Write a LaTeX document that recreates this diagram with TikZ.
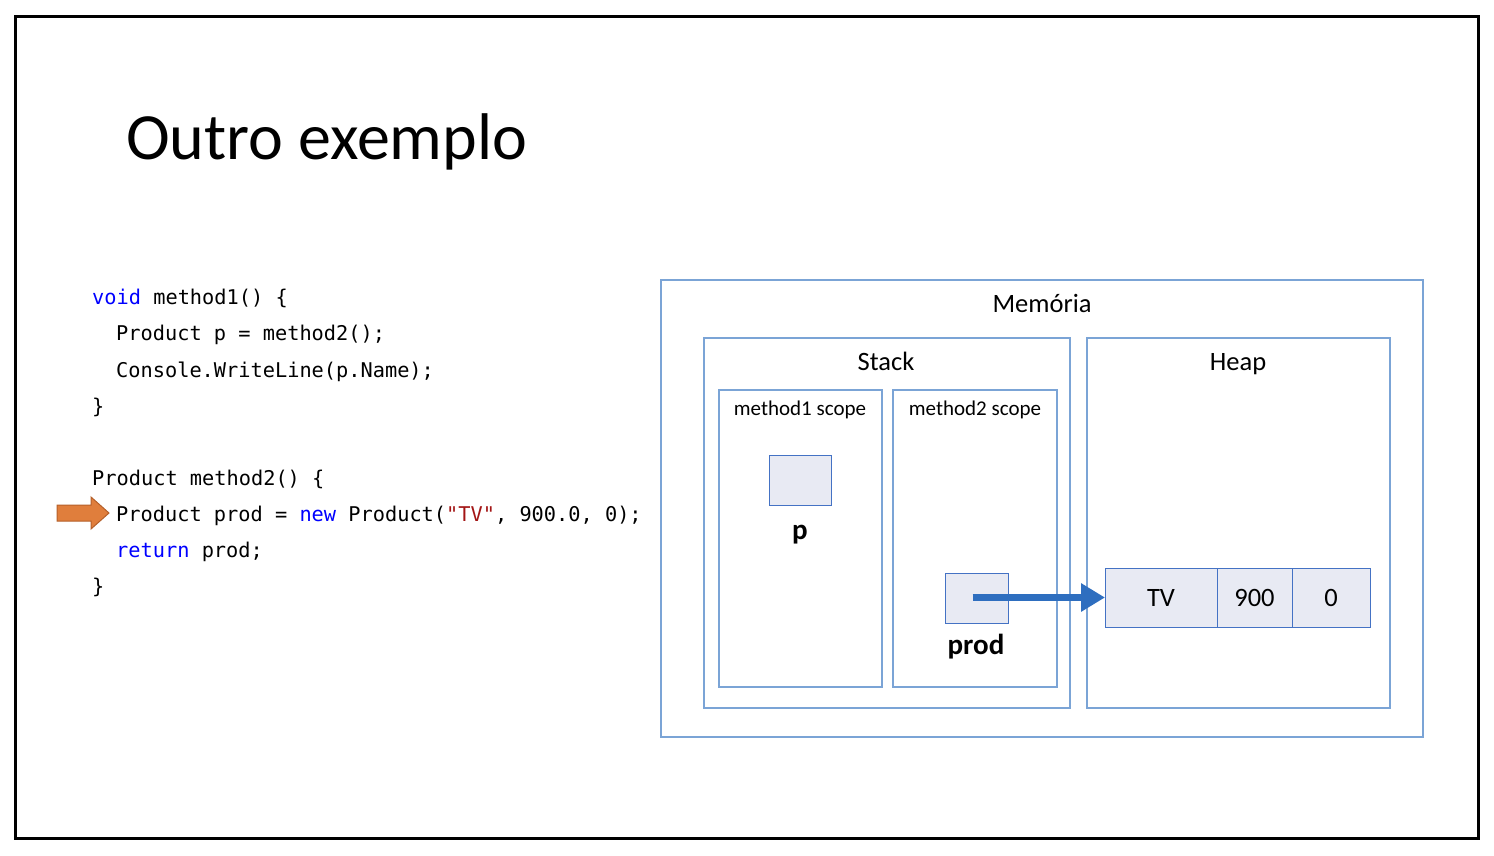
\documentclass[tikz,border=0pt]{standalone}
\usepackage{fontspec}
\setmainfont{Carlito}
\newfontfamily\codefont{DejaVu Sans Mono}
\usetikzlibrary{arrows.meta}
\definecolor{frameblue}{HTML}{7BA4D6}
\definecolor{cellblue}{HTML}{4472C4}
\definecolor{cellfill}{HTML}{E8EAF3}
\definecolor{arrowblue}{HTML}{2E6EBF}
\definecolor{orangefill}{HTML}{E07E3C}
\definecolor{orangeedge}{HTML}{B5602A}
\definecolor{kwblue}{HTML}{0000FF}
\definecolor{strred}{HTML}{A31515}
\tikzset{
  box/.style={draw=frameblue, line width=2pt, inner sep=0pt, outer sep=0pt, anchor=north west},
  cell/.style={draw=cellblue, fill=cellfill, line width=1pt, inner sep=0pt, outer sep=0pt, anchor=north west},
  codeline/.style={anchor=base west, inner sep=0pt, font=\codefont\fontsize{20.3}{24}\selectfont},
  lbl/.style={anchor=base, inner sep=0pt, font=\fontsize{26.5}{30}\selectfont},
  scopelbl/.style={anchor=base, inner sep=0pt, font=\fontsize{21}{25}\selectfont},
  varlbl/.style={anchor=base, inner sep=0pt, font=\bfseries\fontsize{29}{32}\selectfont},
}
\newcommand{\kw}[1]{\textcolor{kwblue}{#1}}
\newcommand{\str}[1]{\textcolor{strred}{#1}}
\begin{document}
\begin{tikzpicture}[x=1pt,y=-1pt]
\useasboundingbox (0,0) rectangle (1494,856);
\fill[white] (0,0) rectangle (1494,856);
\draw[line width=3pt] (15,17) rectangle (1478,838);

% title
\node (title) [anchor=base west, inner sep=0pt, font=\fontsize{66}{70}\selectfont] at (126,160) {Outro exemplo};

% code
\node (c1) [codeline] at (92,304) {\kw{void} method1() \{};
\node (c2) [codeline] at (116,340) {Product p = method2();};
\node (c3) [codeline] at (116,377) {Console.WriteLine(p.Name);};
\node (c4) [codeline] at (92,413) {\}};
\node (c5) [codeline] at (92,485) {Product method2() \{};
\node (c6) [codeline] at (116,521) {Product prod = \kw{new} Product(\str{"TV"}, 900.0, 0);};
\node (c7) [codeline] at (116,557) {\kw{return} prod;};
\node (c8) [codeline] at (92,593) {\}};

% orange pointer
\draw[fill=orangefill, draw=orangeedge, line width=1pt]
  (57,505) -- (91,505) -- (91,497) -- (109,513) -- (91,529) -- (91,521) -- (57,521) -- cycle;

% memory boxes
\node (mem) [box, minimum width=762pt, minimum height=457pt] at (661,280) {};
\node (stack) [box, minimum width=366pt, minimum height=370pt] at (704,338) {};
\node (heap) [box, minimum width=303pt, minimum height=370pt] at (1087,338) {};
\node (m1) [box, minimum width=163pt, minimum height=297pt] at (719,390) {};
\node (m2) [box, minimum width=164pt, minimum height=297pt] at (893,390) {};

\node (memlbl) [lbl] at (1042,312) {Memória};
\node (stacklbl) [lbl] at (886,370) {Stack};
\node (heaplbl) [lbl] at (1238,370) {Heap};
\node (m1lbl) [scopelbl] at (800,415) {method1 scope};
\node (m2lbl) [scopelbl] at (975,415) {method2 scope};

% variables
\node (pbox) [cell, minimum width=62pt, minimum height=50pt] at (769,455) {};
\node (plbl) [varlbl] at (800,539) {p};
\node (prodbox) [cell, minimum width=63pt, minimum height=50pt] at (945,573) {};
\node (prodlbl) [varlbl] at (976,654) {prod};

% heap object
\node (tv) [cell, minimum width=112pt, minimum height=59pt, font=\fontsize{26.5}{30}\selectfont] at (1105,568) {TV};
\node (n900) [cell, minimum width=75pt, minimum height=59pt, font=\fontsize{26.5}{30}\selectfont] at (1217,568) {900};
\node (n0) [cell, minimum width=78pt, minimum height=59pt, font=\fontsize{26.5}{30}\selectfont] at (1292,568) {0};

% reference arrow
\draw[arrowblue, line width=7pt, -{Triangle[length=24pt, width=27pt]}] ([xshift=-4pt]prodbox.center |- tv.west) -- (tv.west);
\end{tikzpicture}
\end{document}
